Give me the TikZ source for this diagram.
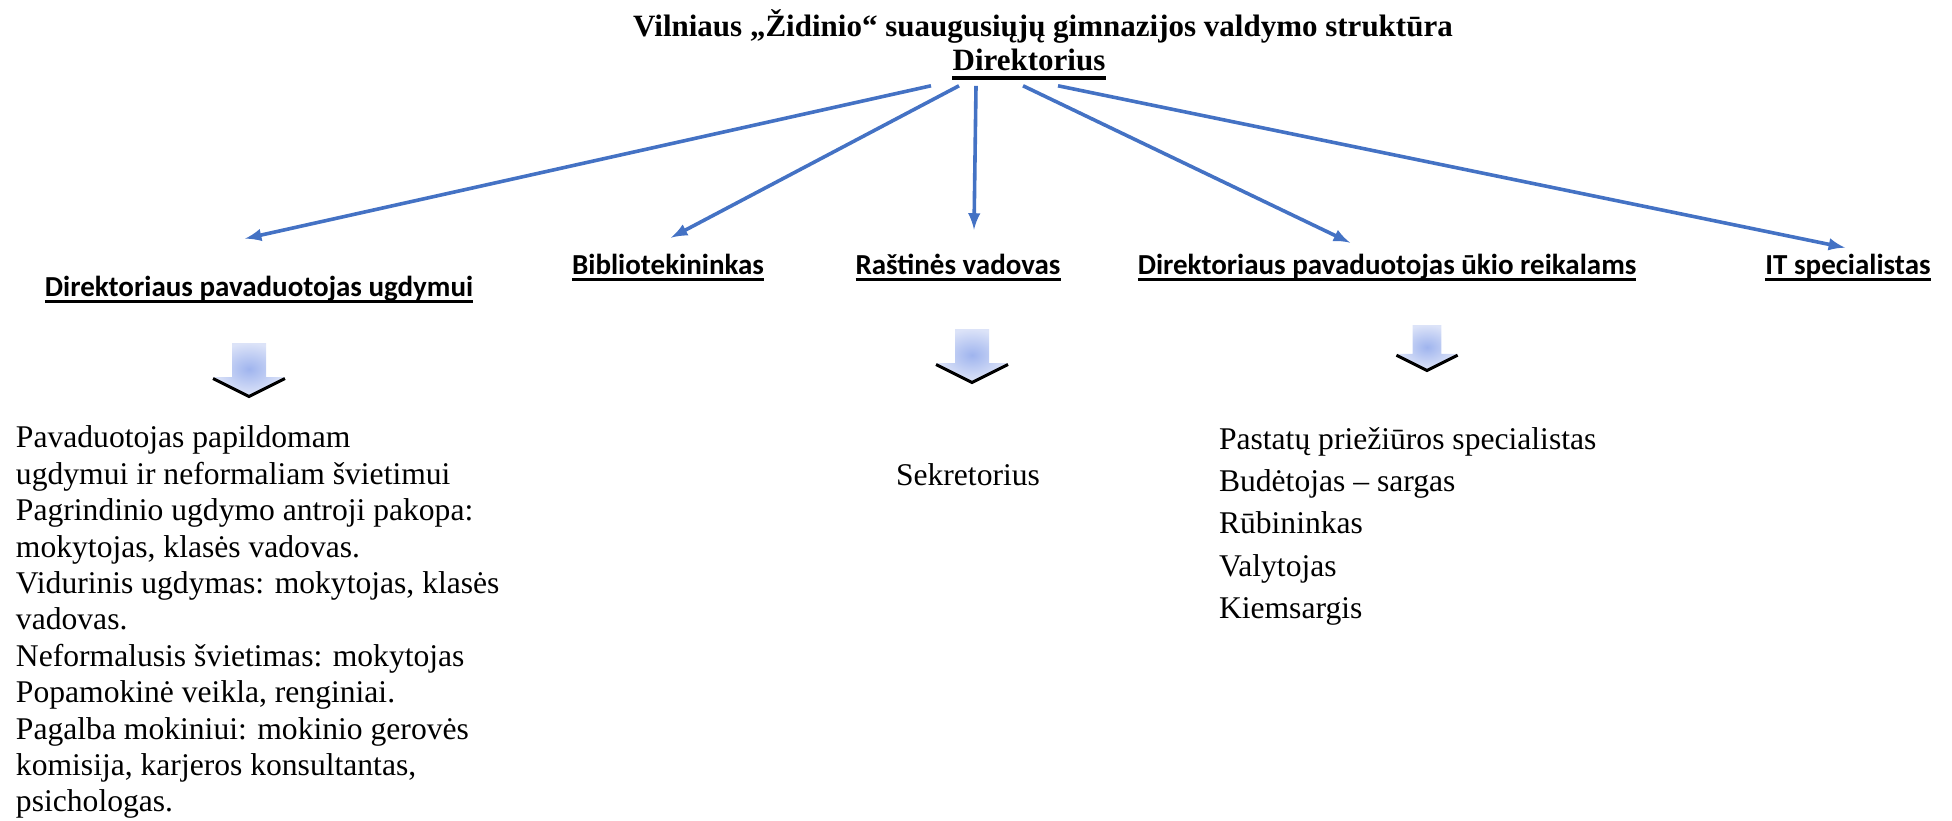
\documentclass[tikz,border=0pt]{standalone}
\usepackage{fontspec}
\setmainfont{Liberation Serif}
\newfontfamily\hdrfont{Carlito}
\definecolor{linkblue}{HTML}{4472C4}
\definecolor{shademid}{HTML}{9FB4EE}
\definecolor{shadeedge}{HTML}{DCE3F8}
\begin{document}
\begin{tikzpicture}[x=0.5pt, y=-0.5pt,
		hdr/.style={font=\hdrfont\bfseries\fontsize{14.5}{17}\selectfont, inner sep=0pt, outer sep=0pt, anchor=base},
		body/.style={font=\fontsize{15.8}{18.2}\selectfont, inner sep=0pt, outer sep=0pt, align=left, anchor=north west},
		link/.style={-latex, line width=1.8pt, linkblue},
		blockdown/.pic={
			\shade[inner color=shademid, outer color=shadeedge] (-17,0) -- (17,0) -- (17,34) -- (36,34) -- (0,52) -- (-36,34) -- (-17,34) -- cycle;
			\draw[line width=1.5pt] (-36,35.5) -- (0,53.5) -- (36,35.5);
		}]
	\useasboundingbox (0,0) rectangle (1952,820);
	\node[font=\bfseries\fontsize{15.5}{18}\selectfont, inner sep=0pt, anchor=base] (title) at (1043,36) {Vilniaus „Židinio“ suaugusiųjų gimnazijos valdymo struktūra};
	\node[font=\bfseries\fontsize{15.5}{18}\selectfont, inner sep=0pt, anchor=base] (dir) at (1029,70) {Direktorius};
	\draw[line width=2pt] ([yshift=-3.8pt]dir.base west) -- ([yshift=-3.8pt]dir.base east);
	\node[hdr] (h1) at (259,296) {Direktoriaus pavaduotojas ugdymui};
	\node[hdr] (h2) at (668,274) {Bibliotekininkas};
	\node[hdr] (h3) at (958,274) {Raštinės vadovas};
	\node[hdr] (h4) at (1387,274) {Direktoriaus pavaduotojas ūkio reikalams};
	\node[hdr] (h5) at (1848,274) {IT specialistas};
	\foreach \n in {h1, h2, h3, h4, h5}
		{
			\draw[line width=1.5pt] ([yshift=-2.6pt]\n.base west) -- ([yshift=-2.6pt]\n.base east);
		}
	\foreach \sx/\n/\tx/\ty in {-98/h1/-14/-37, -70/h2/3/-16, -53/h3/16/-24, -6/h4/-37/-11, 29/h5/-3/-6}
		{
			\draw[link] ([shift={(\sx,15)}]dir.south) -- ([shift={(\tx,\ty)}]\n.north);
		}
	\foreach \px/\py/\ps in {249/343/1, 972/329/1, 1427/325/0.85}
		{
			\pic[scale=\ps] at (\px,\py) {blockdown};
		}
	\node[body] (ugl) at (16,426) {Pavaduotojas papildomam\\ugdymui ir neformaliam švietimui\\Pagrindinio ugdymo antroji pakopa:\\mokytojas, klasės vadovas.\\Vidurinis ugdymas: mokytojas, klasės\\vadovas.\\Neformalusis švietimas: mokytojas\\Popamokinė veikla, renginiai.\\Pagalba mokiniui: mokinio gerovės\\komisija, karjeros konsultantas,\\psichologas.};
	\node[body, anchor=base west] (sek) at (896,485) {Sekretorius};
	\node[body, font=\fontsize{15.8}{21.2}\selectfont] (ukl) at (1219,427) {Pastatų priežiūros specialistas\\Budėtojas – sargas\\Rūbininkas\\Valytojas\\Kiemsargis};
\end{tikzpicture}
\end{document}
